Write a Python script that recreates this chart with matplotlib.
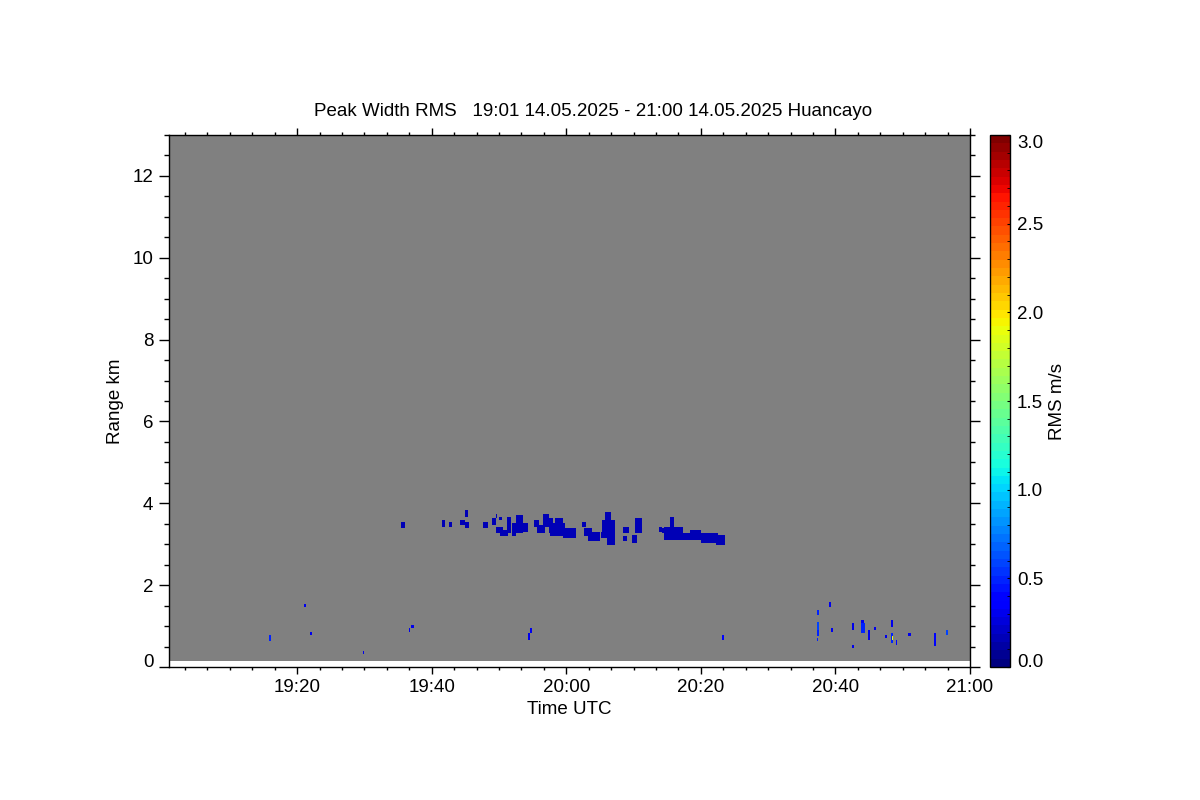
import numpy as np
import matplotlib
matplotlib.use("Agg")
import matplotlib.pyplot as plt
from matplotlib.ticker import MultipleLocator, FuncFormatter

plt.rcParams['font.family'] = ['Liberation Sans', 'DejaVu Sans']

# echo patches: start/end time (minutes after 19:00), bottom/top range (km), RMS (m/s)
blob_t0 = [35.45, 41.6, 42.7, 45.0, 44.2, 45.0, 47.7, 49.6, 49.1, 50.0, 49.8, 50.3,
           51.35, 52.1, 52.8, 53.6,
           55.2, 55.8, 56.8, 57.4, 57.7, 58.5, 59.7,
           62.4, 62.7, 63.3, 65.9, 65.6, 65.2, 66.0, 68.4, 68.4, 70.3, 69.9,
           73.9, 74.3, 75.6, 74.8, 77.0, 78.5, 80.0, 82.2,
           15.8, 21.1, 22.0, 29.8, 36.6, 37.1, 54.4, 54.8, 83.2,
           97.2, 97.2, 97.2, 97.2, 99.1, 99.4, 102.4, 102.5, 103.8, 103.9, 104.9,
           105.8, 107.4, 108.2, 108.3, 108.4, 109.0, 110.9, 114.7, 116.5]
blob_t1 = [35.85, 42.0, 42.9, 45.35, 45.0, 45.45, 48.3, 49.8, 49.6, 50.3, 50.5, 51.3,
           51.8, 52.5, 53.6, 54.4,
           56.0, 56.7, 57.3, 58.0, 59.7, 59.5, 61.4,
           62.9, 63.8, 64.9, 66.6, 67.1, 65.9, 67.1, 69.3, 68.9, 71.1, 70.5,
           74.1, 74.5, 75.9, 77.3, 78.8, 80.0, 82.5, 83.6,
           16.1, 21.3, 22.2, 30.0, 36.8, 37.3, 54.6, 55.0, 83.4,
           97.5, 97.5, 97.5, 97.4, 99.3, 99.6, 102.8, 102.7, 104.3, 104.1, 105.1,
           106.0, 107.6, 108.6, 108.5, 108.6, 109.2, 111.1, 114.9, 116.8]
blob_h0 = [3.41, 3.45, 3.46, 3.69, 3.50, 3.42, 3.41, 3.63, 3.50, 3.59, 3.30, 3.20,
           3.27, 3.22, 3.30, 3.34,
           3.46, 3.27, 3.46, 3.27, 3.20, 3.51, 3.17,
           3.44, 3.22, 3.10, 3.59, 3.17, 3.17, 3.02, 3.29, 3.10, 3.27, 3.05,
           3.32, 3.30, 3.38, 3.14, 3.12, 3.14, 3.06, 2.99,
           0.66, 1.49, 0.80, 0.34, 0.90, 0.97, 0.70, 0.85, 0.68,
           1.28, 0.90, 0.78, 0.66, 1.50, 0.90, 0.93, 0.50, 0.84, 1.10, 0.68,
           0.92, 0.72, 0.62, 1.00, 0.68, 0.58, 0.78, 0.54, 0.80]
blob_h1 = [3.52, 3.56, 3.52, 3.83, 3.58, 3.52, 3.52, 3.73, 3.63, 3.67, 3.42, 3.33,
           3.67, 3.50, 3.71, 3.50,
           3.56, 3.46, 3.73, 3.63, 3.51, 3.63, 3.39,
           3.52, 3.38, 3.30, 3.76, 3.59, 3.30, 3.17, 3.41, 3.17, 3.63, 3.20,
           3.40, 3.36, 3.64, 3.42, 3.27, 3.32, 3.24, 3.22,
           0.78, 1.53, 0.84, 0.38, 0.95, 1.02, 0.80, 0.95, 0.76,
           1.35, 1.10, 0.88, 0.70, 1.57, 0.94, 1.05, 0.55, 1.05, 1.14, 0.88,
           0.96, 0.76, 0.80, 1.12, 0.72, 0.66, 0.82, 0.80, 0.90]
blob_rms = [0.15] * 42 + [0.5, 0.3, 0.3, 0.3, 0.3, 0.3, 0.3, 0.3, 0.4,
                          0.5, 0.6, 0.5, 0.5, 0.3, 0.3, 0.3, 0.3, 0.5, 0.3, 0.3,
                          0.3, 0.3, 0.5, 0.3, 1.9, 0.4, 0.3, 0.4, 0.6]

rms_ticks = [0.0, 0.5, 1.0, 1.5, 2.0, 2.5, 3.0]

t_min, t_max, dt = 1.0, 120.0, 0.2
h_min, h_max, dh = 0.15, 13.0, 0.04
nt = int(round((t_max - t_min) / dt))
nh = int(round((h_max - h_min) / dh))
field = np.full((nh, nt), np.nan)
for t0, t1, h0, h1, v in zip(blob_t0, blob_t1, blob_h0, blob_h1, blob_rms):
    i0 = int(np.floor((t0 - t_min) / dt))
    i1 = max(int(np.ceil((t1 - t_min) / dt)), i0 + 1)
    j0 = int(np.floor((h0 - h_min) / dh))
    j1 = max(int(np.ceil((h1 - h_min) / dh)), j0 + 1)
    field[j0:j1, i0:i1] = v

fs = 13.5
fig = plt.figure(figsize=(12, 8), dpi=100)
ax = fig.add_axes([169.3 / 1200, 1 - 667 / 800, (970 - 169.3) / 1200, (667 - 135) / 800])

cmap = plt.get_cmap('jet', 64).copy()
cmap.set_bad('#808080')
im = ax.imshow(np.ma.masked_invalid(field), origin='lower', aspect='auto',
               interpolation='nearest', cmap=cmap, vmin=0, vmax=3,
               extent=[t_min, t_max, h_min, h_max])
ax.set_xlim(t_min, t_max)
ax.set_ylim(0, 13)

ax.xaxis.set_major_locator(MultipleLocator(20))
ax.xaxis.set_minor_locator(MultipleLocator(20 / 6))
ax.xaxis.set_major_formatter(FuncFormatter(lambda v, p: "%d:%02d" % (19 + int(v) // 60, int(v) % 60)))
ax.yaxis.set_major_locator(MultipleLocator(2))
ax.yaxis.set_minor_locator(MultipleLocator(0.5))
ax.tick_params(axis='both', which='both', direction='out', top=True, right=True,
               labelsize=fs, width=1, colors='black')
ax.tick_params(axis='x', which='major', length=5, pad=4)
ax.tick_params(axis='x', which='minor', length=2.3)
ax.tick_params(axis='y', which='major', length=7.5, pad=4)
ax.tick_params(axis='y', which='minor', length=3.3)
for s in ax.spines.values():
    s.set_linewidth(1)

ax.set_xlabel('Time UTC', fontsize=fs, labelpad=3)
ax.set_ylabel('Range km', fontsize=fs, labelpad=6)

fig.text(593 / 1200, 1 - 111 / 800,
         'Peak Width RMS   19:01 14.05.2025 - 21:00 14.05.2025 Huancayo',
         ha='center', va='center', fontsize=fs)

cax = fig.add_axes([990 / 1200, 1 - 667 / 800, 20 / 1200, (667 - 135) / 800])
cb = fig.colorbar(im, cax=cax)
cb.set_ticks(rms_ticks)
cb.set_ticklabels(["%.1f" % r for r in rms_ticks])
cb.ax.yaxis.set_minor_locator(MultipleLocator(0.1))
cb.ax.tick_params(which='both', direction='in', length=2, labelsize=fs, pad=5)
cb.outline.set_linewidth(1)
cb.set_label('RMS m/s', fontsize=fs, labelpad=4)

# end labels sit inside the frame, as in the original plot
fig.canvas.draw()
for tick in ax.yaxis.get_major_ticks():
    if abs(tick.get_loc()) < 1e-9:
        tick.label1.set_va('baseline')
for tick in cb.ax.yaxis.get_major_ticks():
    if abs(tick.get_loc()) < 1e-9:
        tick.label2.set_va('baseline')
    elif abs(tick.get_loc() - 3.0) < 1e-9:
        tick.label2.set_va('top')

fig.savefig('out.png', dpi=100)
